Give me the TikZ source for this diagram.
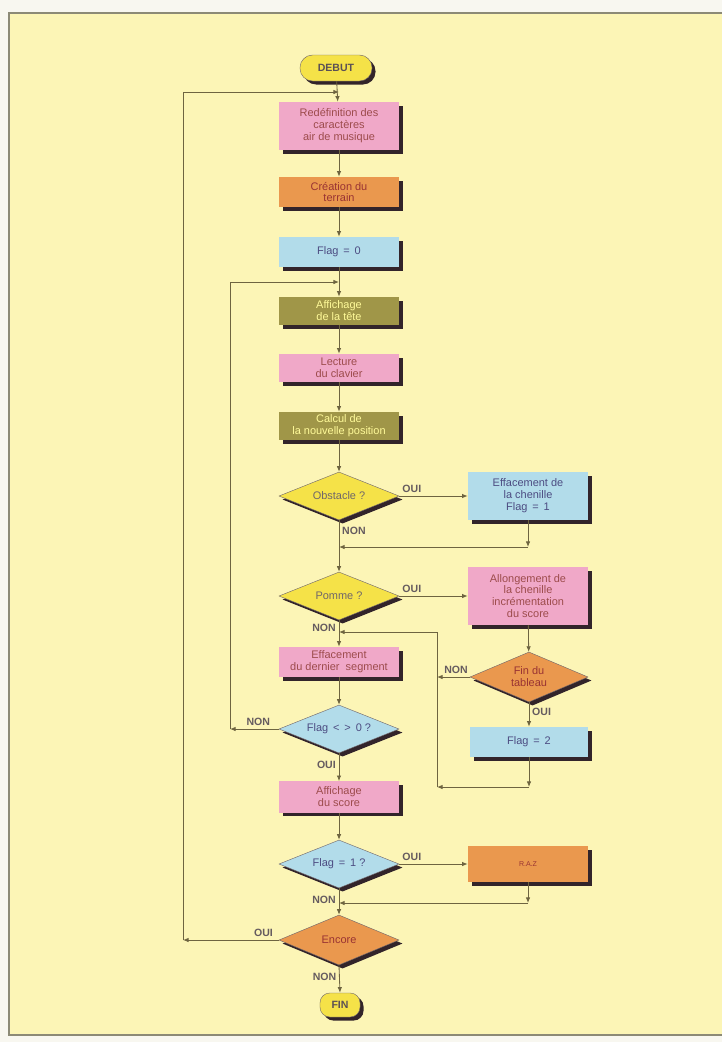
\documentclass[tikz,border=0pt]{standalone}
\usepackage{fontspec}
\setmainfont{Liberation Sans}
\usetikzlibrary{shapes.geometric,shadows,arrows.meta}
\definecolor{paper}{RGB}{252,245,182}
\definecolor{outside}{RGB}{248,247,240}
\definecolor{framecol}{RGB}{140,138,118}
\definecolor{linecol}{RGB}{110,100,64}
\definecolor{ombre}{RGB}{50,36,42}
\definecolor{jaune}{RGB}{245,226,72}
\definecolor{rose}{RGB}{240,168,200}
\definecolor{orangec}{RGB}{234,152,78}
\definecolor{bleu}{RGB}{178,220,234}
\definecolor{olivec}{RGB}{160,150,72}
\begin{document}
\begin{tikzpicture}[x=0.025cm,y=-0.025cm]
	\tikzset{
		flow/.style={draw=linecol, line width=0.6pt, -{Latex[length=4pt,width=3.2pt]}},
		shade_it/.style={drop shadow={shadow xshift=2.5pt, shadow yshift=-2.5pt, fill=ombre, opacity=1}},
		box/.style={rectangle, shade_it, minimum width=3cm, minimum height=0.75cm, inner sep=1pt, align=center, font=\fontsize{7.8}{8.5}\selectfont},
		dec/.style={diamond, shade_it, aspect=2.5, minimum width=3cm, minimum height=1.2cm, inner sep=0pt, align=center, draw=ombre!70, line width=0.3pt, font=\fontsize{7.8}{8.5}\selectfont},
		term/.style={rectangle, rounded corners=9pt, shade_it, fill=jaune, draw=ombre!70, line width=0.3pt, text=ombre!80, minimum width=1.8cm, minimum height=0.65cm, font=\fontsize{7.5}{8.5}\selectfont\bfseries},
		box_rose/.style={box, fill=rose, text=red!45!black!70},
		box_orange/.style={box, fill=orangec, text=red!50!black!80},
		box_bleu/.style={box, fill=bleu, text=blue!30!black!70},
		box_olive/.style={box, fill=olivec, text=yellow!40!white},
		lbl/.style={font=\fontsize{7.5}{8}\selectfont\bfseries, text=ombre!75, inner sep=2pt}
	}
	\useasboundingbox (0,0) rectangle (722,1042);
	\fill[outside] (0,0) rectangle (722,1042);
	\fill[paper] (9,13) rectangle (740,1035);
	\draw[framecol, line width=1.5pt] (740,13) -- (9,13) -- (9,1035) -- (740,1035);

	\node[term] (debut) at (336,68) {DEBUT};
	\node[box_rose, minimum height=1.2cm] (redef) at (339,126) {Redéfinition des\\caractères\\air de musique};
	\node[box_orange] (crea) at (339,192) {Création du\\terrain};
	\node[box_bleu] (flag0) at (339,252) {Flag \,=\, 0};
	\node[box_olive, minimum height=0.7cm] (tete) at (339,311) {Affichage\\de la tête};
	\node[box_rose, minimum height=0.7cm] (clavier) at (339,368) {Lecture\\du clavier};
	\node[box_olive, minimum height=0.7cm] (calcul) at (339,426) {Calcul de\\la nouvelle position};
	\node[dec, fill=jaune, text=ombre!70] (obstacle) at (339,496) {Obstacle ?};
	\node[box_bleu, minimum height=1.2cm] (effchen) at (528,496) {Effacement de\\la chenille\\Flag \,=\, 1};
	\node[dec, fill=jaune, text=ombre!70] (pomme) at (339,596) {Pomme ?};
	\node[box_rose, minimum height=1.45cm] (allong) at (528,596) {Allongement de\\la chenille\\incrémentation\\du score};
	\node[box_rose] (effseg) at (339,662) {Effacement\\du dernier \ segment};
	\node[dec, fill=orangec, text=red!50!black!80, minimum width=2.95cm, minimum height=1.25cm] (fintab) at (529,677) {Fin du\\tableau};
	\node[box_bleu, minimum width=2.95cm] (flag2) at (529,742) {Flag \,=\, 2};
	\node[dec, fill=bleu, text=blue!30!black!70] (flagnz) at (339,729) {Flag \,< \,> \,0 ?};
	\node[box_rose, minimum height=0.78cm] (score) at (339,797) {Affichage\\du score};
	\node[dec, fill=bleu, text=blue!30!black!70] (flag1) at (339,864) {Flag \,=\, 1 ?};
	\node[box_orange, minimum height=0.9cm, font=\fontsize{5}{6}\selectfont] (raz) at (528,864) {R.A.Z};
	\node[dec, fill=orangec, text=red!50!black!80, minimum height=1.25cm] (encore) at (339,940) {Encore};
	\node[term, minimum width=1cm, minimum height=0.6cm, rounded corners=7pt] (fin) at (340,1005) {FIN};

	\coordinate (j_out) at (339,92);
	\coordinate (j_in) at (339,282);
	\coordinate (j_obs) at (339,547);
	\coordinate (j_seg) at (339,632);
	\coordinate (j_raz) at (339,903);
	\coordinate (c_out) at (183,940);
	\coordinate (c_in) at (230,729);
	\coordinate (c_obs) at (528,547);
	\coordinate (c_fin) at (437,677);
	\coordinate (c_f2) at (529,787);
	\coordinate (c_f2l) at (437,787);
	\coordinate (c_raz) at (528,903);

	\draw[flow] (debut) -- (redef);
	\draw[flow] (redef) -- (crea);
	\draw[flow] (crea) -- (flag0);
	\draw[flow] (flag0) -- (tete);
	\draw[flow] (tete) -- (clavier);
	\draw[flow] (clavier) -- (calcul);
	\draw[flow] (calcul) -- (obstacle);
	\draw[flow] (obstacle.east) -- node[lbl, pos=0, anchor=south west] {OUI} (effchen.west);
	\draw[flow] (effchen.south) -- (c_obs);
	\draw[flow] (c_obs) -- (j_obs);
	\draw[flow] (obstacle.south) -- node[lbl, pos=0.2, right] {NON} (pomme.north);
	\draw[flow] (pomme.east) -- node[lbl, pos=0, anchor=south west] {OUI} (allong.west);
	\draw[flow] (allong) -- (fintab);
	\draw[flow] (fintab.west) -- node[lbl, pos=0.42, above] {NON} (c_fin);
	\draw[flow] (fintab.south) -- node[lbl, pos=0.4, right] {OUI} (flag2.north);
	\draw[flow] (flag2.south) -- (c_f2);
	\draw[flow] (c_f2) -- (c_f2l);
	\draw[flow] (c_f2l) |- (j_seg);
	\draw[flow] (pomme.south) -- node[lbl, pos=0.3, left] {NON} (effseg.north);
	\draw[flow] (effseg) -- (flagnz);
	\draw[flow] (flagnz.west) -- node[lbl, pos=0.42, above] {NON} (c_in);
	\draw[flow] (c_in) |- (j_in);
	\draw[flow] (flagnz.south) -- node[lbl, pos=0.4, left] {OUI} (score.north);
	\draw[flow] (score) -- (flag1);
	\draw[flow] (flag1.east) -- node[lbl, pos=0, anchor=south west] {OUI} (raz.west);
	\draw[flow] (raz.south) -- (c_raz);
	\draw[flow] (c_raz) -- (j_raz);
	\draw[flow] (flag1.south) -- node[lbl, pos=0.45, left] {NON} (encore.north);
	\draw[flow] (encore.west) -- node[lbl, pos=0.16, above] {OUI} (c_out);
	\draw[flow] (c_out) |- (j_out);
	\draw[flow] (encore.south) -- node[lbl, pos=0.43, left] {NON} (fin.north);
\end{tikzpicture}
\end{document}
